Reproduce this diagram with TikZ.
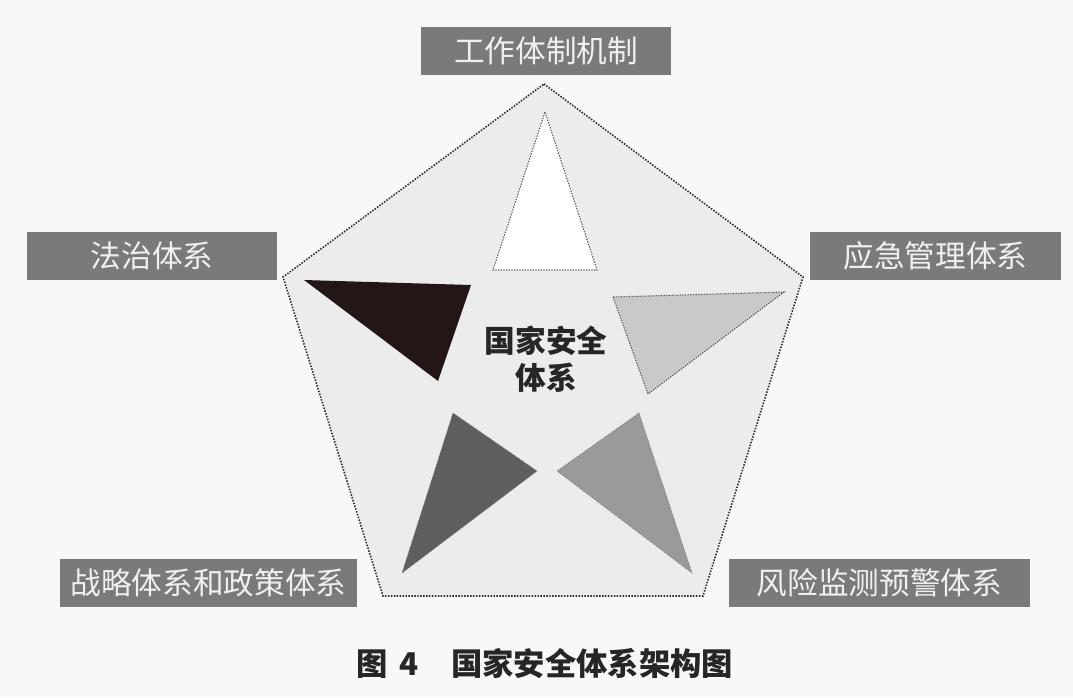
\documentclass[tikz,border=0pt]{standalone}
\usepackage{fontspec}
\setmainfont{Noto Sans CJK SC}
\definecolor{bgc}{HTML}{F8F8F8}
\definecolor{pentc}{HTML}{ECECEC}
\definecolor{boxc}{HTML}{7A7A7A}
\definecolor{darkc}{HTML}{231617}
\definecolor{midc}{HTML}{5E5E5E}
\definecolor{greyc}{HTML}{9A9A9A}
\definecolor{lightc}{HTML}{C9C9C9}
\definecolor{dotc}{HTML}{2A2A2A}
\begin{document}
\begin{tikzpicture}[x=0.75pt,y=-0.75pt,
  lbl/.style={fill=boxc, text=white!94!black, minimum height=36pt, inner sep=0pt,
    font=\fontsize{23}{23}\selectfont},
  dotline/.style={draw=dotc, line width=1.2pt, dash pattern=on 1.1pt off 1.1pt},
  thindot/.style={draw=dotc!80, line width=0.8pt, dash pattern=on 1pt off 1pt},
  faint/.style={draw=dotc!60, line width=0.5pt, dash pattern=on 1pt off 1pt}]
\useasboundingbox (0,0) rectangle (1073,697);
\fill[bgc] (0,0) rectangle (1073,697);
% pentagon
\coordinate (pt) at (544,84);
\coordinate (pr) at (803,277);
\coordinate (pbr) at (703,596);
\coordinate (pbl) at (383,596);
\coordinate (pl) at (283,277);
\filldraw[fill=pentc, dotline] (pt) -- (pr) -- (pbr) -- (pbl) -- (pl) -- cycle;
% triangles
\filldraw[fill=white, thindot] (545,112) -- (597,270) -- (493,270) -- cycle;
\fill[darkc] (304,280) -- (471,285) -- (438,381) -- cycle;
\filldraw[fill=lightc, thindot] (613,297) -- (784,292) -- (648,394) -- cycle;
\filldraw[fill=midc, faint] (453,413) -- (537,471) -- (402,573) -- cycle;
\filldraw[fill=greyc, faint] (639,413) -- (557,471) -- (692,573) -- cycle;
% labels
\node[lbl, minimum width=187.5pt] (top) at (546,50.5) {工作体制机制};
\node[lbl, minimum width=187.5pt] (left) at (152,256) {法治体系};
\node[lbl, minimum width=188pt] (right) at (935.5,256) {应急管理体系};
\node[lbl, minimum width=223pt] (bleft) at (208.5,583) {战略体系和政策体系};
\node[lbl, minimum width=225.5pt] (bright) at (879.5,583) {风险监测预警体系};
% centre
\node[align=center, font=\fontsize{23}{27.75}\selectfont\bfseries, text=black!85] (centre) at (546,359) {国家安全\\体系};
% caption
\node[font=\fontsize{23.5}{23.5}\selectfont\bfseries, text=black!85] (cap) at (545,663) {图\hspace{0.35em}4\hspace{1.05em}国家安全体系架构图};
\end{tikzpicture}
\end{document}
